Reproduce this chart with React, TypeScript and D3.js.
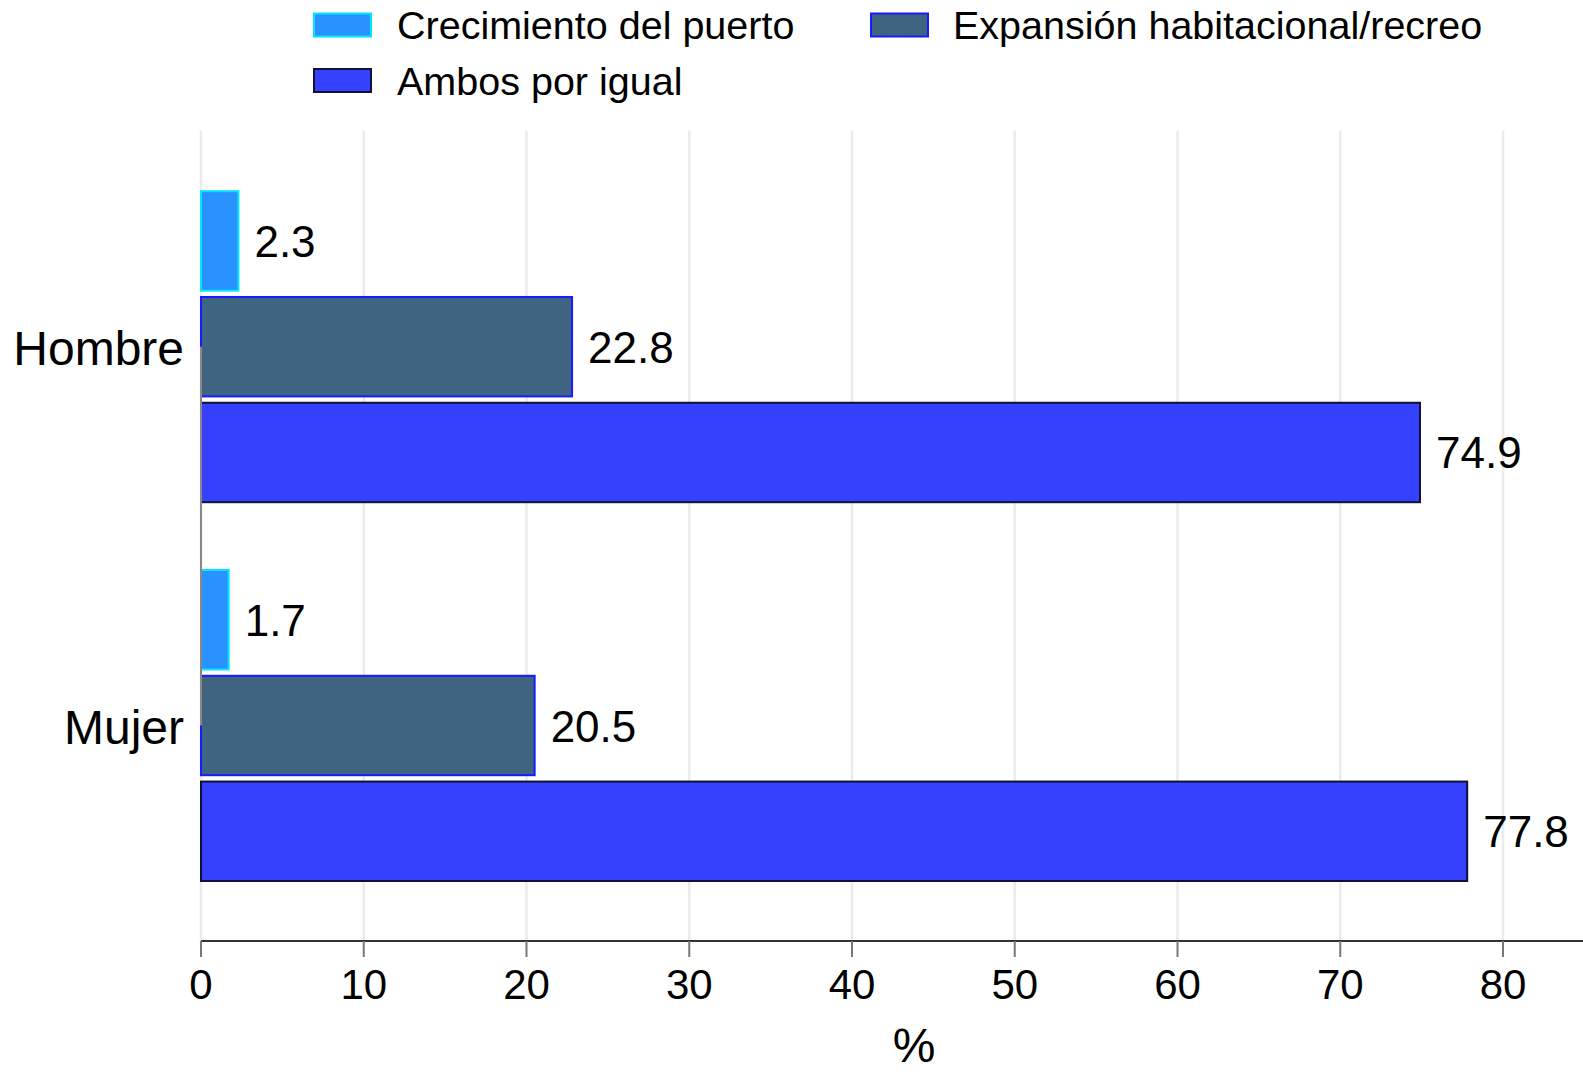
import React from "react";
import * as d3 from "d3";

const categories = ["Hombre", "Mujer"];
const seriesNames = ["Crecimiento del puerto", "Expansión habitacional/recreo", "Ambos por igual"];
const crecimiento = [2.3, 1.7];
const expansion = [22.8, 20.5];
const ambos = [74.9, 77.8];
const xTicks = [0, 10, 20, 30, 40, 50, 60, 70, 80];

const fills = ["#2a92ff", "#3e6482", "#3541ff"];
const strokes = ["#00e6ff", "#1a1aff", "#111133"];

const W = 1583;
const H = 1073;
const FONT = "'Liberation Sans', Arial, Helvetica, sans-serif";

export default function App() {
  const values = [crecimiento, expansion, ambos];
  const x = d3.scaleLinear().domain([0, 80]).range([201, 1503]);
  const yCat = d3.scalePoint<string>().domain(categories).range([346.7, 725.5]);
  const yInner = d3.scaleBand<string>().domain(seriesNames).range([-155.5, 155.5]).paddingInner(0.06).paddingOuter(0);
  const plotTop = 131;
  const axisY = 941;

  const legendItems = [
    { name: seriesNames[0], i: 0, sx: 314, tx: 397, cy: 25 },
    { name: seriesNames[1], i: 1, sx: 871, tx: 953, cy: 25 },
    { name: seriesNames[2], i: 2, sx: 314, tx: 397, cy: 80.5 },
  ];

  return (
    <svg width={W} height={H} style={{ position: "absolute", left: 0, top: 0, background: "#fff" }} fontFamily={FONT}>
      <rect x={0} y={0} width={W} height={H} fill="#fff" />
      {/* gridlines */}
      {xTicks.map((t) => (
        <line key={"g" + t} x1={x(t)} x2={x(t)} y1={plotTop} y2={axisY} stroke="#ebebeb" strokeWidth={2.5} />
      ))}
      {/* bars */}
      {categories.map((c, ci) =>
        seriesNames.map((s, si) => {
          const v = values[si][ci];
          const y0 = (yCat(c) as number) + (yInner(s) as number);
          const bh = yInner.bandwidth();
          return (
            <g key={c + s}>
              <rect x={x(0)} y={y0} width={x(v) - x(0)} height={bh} fill={fills[si]} stroke={strokes[si]} strokeWidth={2} />
              <text x={x(v) + 16} y={y0 + bh / 2 + 16} fontSize={44} fill="#000">
                {v.toFixed(1)}
              </text>
            </g>
          );
        })
      )}
      {/* y axis line */}
      <line x1={x(0)} x2={x(0)} y1={yCat(categories[0])} y2={yCat(categories[categories.length - 1])} stroke="#888" strokeWidth={2} />
      {/* category labels */}
      {categories.map((c) => (
        <text key={"c" + c} x={184} y={(yCat(c) as number) + 18} fontSize={48} textAnchor="end" fill="#000">
          {c}
        </text>
      ))}
      {/* x axis */}
      <line x1={x(0)} x2={W} y1={axisY} y2={axisY} stroke="#333" strokeWidth={2} />
      {xTicks.map((t) => (
        <g key={"t" + t}>
          <line x1={x(t)} x2={x(t)} y1={axisY} y2={axisY + 16} stroke="#777" strokeWidth={2} />
          <text x={x(t)} y={999} fontSize={42} textAnchor="middle" fill="#000">
            {t}
          </text>
        </g>
      ))}
      <text x={914} y={1062} fontSize={48} textAnchor="middle" fill="#000">
        %
      </text>
      {/* legend */}
      {legendItems.map((l) => (
        <g key={"l" + l.i}>
          <rect x={l.sx} y={l.cy - 11.5} width={57} height={23} fill={fills[l.i]} stroke={strokes[l.i]} strokeWidth={2} />
          <text x={l.tx} y={l.cy + 14} fontSize={39.5} fill="#000">
            {l.name}
          </text>
        </g>
      ))}
    </svg>
  );
}
